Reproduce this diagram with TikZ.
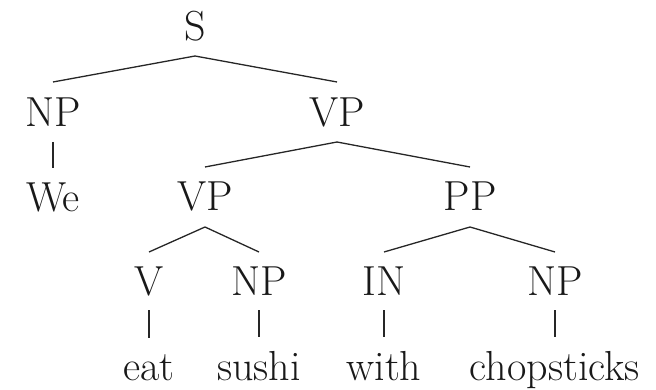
\documentclass[tikz,border=0pt]{standalone}
\begin{document}
\begin{tikzpicture}[x=1pt,y=1pt,
  lbl/.style={inner sep=0pt, anchor=base, font=\fontsize{42}{50}\selectfont, text=black!90},
  edge/.style={line width=1.3pt, black!85}]
\useasboundingbox (0,0) rectangle (656,-390);
% nodes (x, -baseline)
\node[lbl] (S)   at (195,-41)  {S};
\node[lbl] (NP1) at (53,-127)  {NP};
\node[lbl] (VP1) at (337,-127) {VP};
\node[lbl] (We)  at (53,-212)  {We};
\node[lbl] (VP2) at (205,-211) {VP};
\node[lbl] (PP)  at (470,-211) {PP};
\node[lbl] (V)   at (149,-295) {V};
\node[lbl] (NP2) at (259,-295) {NP};
\node[lbl] (IN)  at (384,-295) {IN};
\node[lbl] (NP3) at (555,-295) {NP};
\node[lbl] (eat) at (149,-380) {eat};
\node[lbl] (sushi) at (259,-380) {sushi};
\node[lbl] (with) at (384,-380) {with};
\node[lbl] (chop) at (555,-380) {chopsticks};
% connectors
\draw[edge] ([yshift=45pt]NP1.base) -- ([yshift=-15pt]S.base) -- ([yshift=45pt]VP1.base);
\draw[edge] ([yshift=-15pt]NP1.base) -- ([yshift=44pt]We.base);
\draw[edge] ([yshift=44pt]VP2.base) -- ([yshift=-15pt]VP1.base) -- ([yshift=44pt]PP.base);
\draw[edge] ([yshift=43pt]V.base) -- ([yshift=-16pt]VP2.base) -- ([yshift=43pt]NP2.base);
\draw[edge] ([yshift=43pt]IN.base) -- ([yshift=-16pt]PP.base) -- ([yshift=43pt]NP3.base);
\draw[edge] ([yshift=-15pt]V.base) -- ([yshift=42pt]eat.base);
\draw[edge] ([yshift=-15pt]NP2.base) -- ([yshift=43pt]sushi.base);
\draw[edge] ([yshift=-15pt]IN.base) -- ([yshift=43pt]with.base);
\draw[edge] ([yshift=-15pt]NP3.base) -- ([yshift=43pt]chop.base);
\end{tikzpicture}
\end{document}
